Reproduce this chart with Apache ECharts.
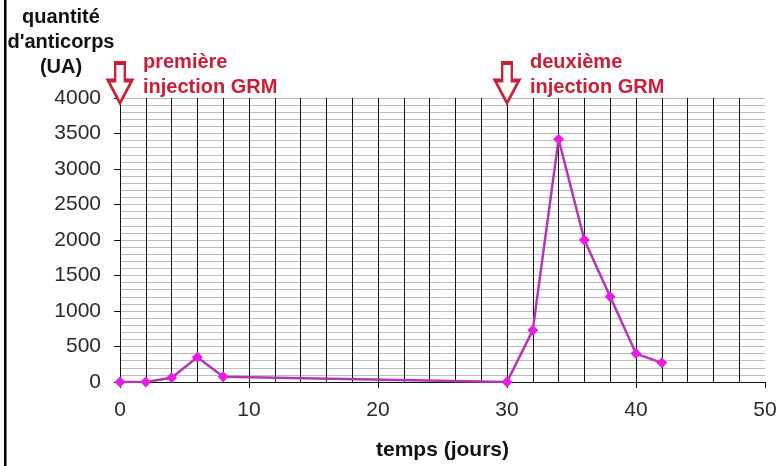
<!DOCTYPE html>
<html><head><meta charset="utf-8">
<script src="https://cdn.jsdelivr.net/npm/echarts@6/dist/echarts.min.js"></script>
<style>html,body{margin:0;padding:0;background:#fff}#c{width:783px;height:466px}</style>
</head><body><div id="c"></div>
<script>
// ---- data ----
const days = [0, 2, 4, 6, 8, 30, 32, 34, 36, 38, 40, 42];
const anticorps = [0, 0, 60, 350, 75, 0, 730, 3420, 2000, 1200, 400, 270];
const injectionDays = [0, 30];
const injectionLabels = ['première\ninjection GRM', 'deuxième\ninjection GRM'];
const yTitle = "quantité\nd'anticorps\n(UA)";
const xTitle = 'temps (jours)';
const xMin = 0, xMax = 50, xStep = 10;
const yMin = 0, yMax = 4000, yStep = 500;

const FONT = '"Liberation Sans", Arial, sans-serif';
const RED = '#c8203a';
const chart = echarts.init(document.getElementById('c'), null, {renderer: 'canvas'});

const arrowPath = 'path://M3,0 L7,0 L7,7 L10,7 L5,16 L0,7 L3,7 Z';

const option = {
  animation: false,
  backgroundColor: '#fff',
  grid: {left: 120, right: 18, top: 98, bottom: 84, containLabel: false},
  xAxis: {
    type: 'value', min: xMin, max: xMax, interval: xStep,
    name: xTitle, nameLocation: 'middle', nameGap: 58,
    nameTextStyle: {fontFamily: FONT, fontSize: 21, fontWeight: 'bold', color: '#111'},
    axisLine: {show: true, lineStyle: {color: '#111', width: 1}},
    axisTick: {show: true, length: 6, lineStyle: {color: '#111'}},
    axisLabel: {margin: 18, fontFamily: FONT, fontSize: 21, color: '#2a2a2a', formatter: v => String(v)},
    splitLine: {show: true, showMinLine: false, showMaxLine: false, lineStyle: {color: '#111', width: 1}},
    minorTick: {show: false, splitNumber: 5},
    minorSplitLine: {show: true, lineStyle: {color: '#111', width: 1}}
  },
  yAxis: {
    type: 'value', min: yMin, max: yMax, interval: yStep,
    axisLine: {show: true, lineStyle: {color: '#111', width: 1}},
    axisTick: {show: true, length: 6, lineStyle: {color: '#111'}},
    axisLabel: {margin: 19, fontFamily: FONT, fontSize: 21, color: '#2a2a2a', formatter: v => String(v)},
    splitLine: {show: true, lineStyle: {color: '#bdbdbd', width: 1}},
    minorTick: {show: false, splitNumber: 5},
    minorSplitLine: {show: true, lineStyle: {color: '#bdbdbd', width: 1}}
  },
  series: [{
    type: 'line',
    data: days.map((d, i) => [d, anticorps[i]]),
    symbol: 'diamond', symbolSize: 11,
    lineStyle: {color: '#b536b5', width: 2.5},
    itemStyle: {color: '#e41ee4'},
    z: 5,
    markPoint: {
      symbol: arrowPath,
      symbolSize: [24, 40],
      symbolKeepAspect: false,
      symbolOffset: [0, -15],
      itemStyle: {color: '#fff', borderColor: RED, borderWidth: 3},
      label: {show: false},
      silent: true,
      data: injectionDays.map(d => ({coord: [d, yMax]}))
    }
  }]
};
chart.setOption(option);

const texts = [];
injectionDays.forEach((d, i) => {
  const p = chart.convertToPixel({gridIndex: 0}, [d, yMax]);
  texts.push({
    type: 'text', x: p[0] + 23, y: p[1] - 48,
    style: {text: injectionLabels[i], fill: RED, font: 'bold 20px ' + FONT, lineHeight: 25}
  });
});
texts.push({
  type: 'text', x: 61, y: 5,
  style: {text: yTitle, fill: '#111', font: 'bold 20px ' + FONT, lineHeight: 25, align: 'center'}
});
texts.push({type: 'rect', x: 4, y: 0, shape: {width: 2.5, height: 466}, style: {fill: '#000'}});
chart.setOption({graphic: texts});
</script>
</body></html>
